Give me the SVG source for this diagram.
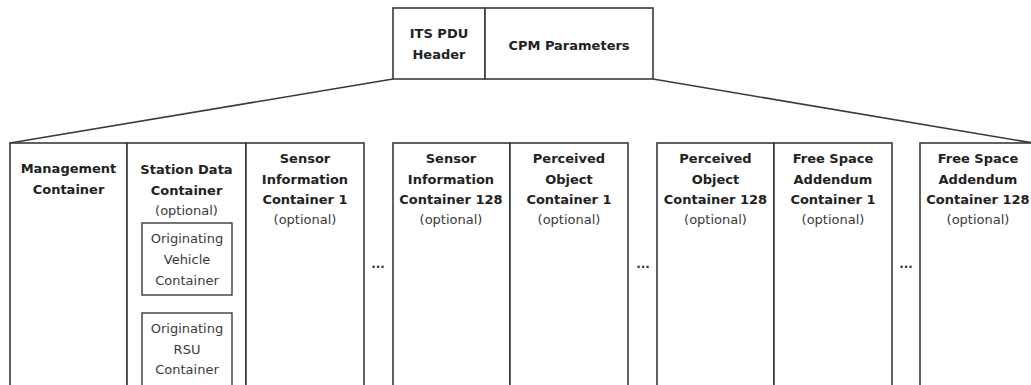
<svg xmlns="http://www.w3.org/2000/svg" width="1031" height="385" viewBox="0 0 1031 385">
<style>
.box{fill:#fff;stroke:#3a3a3a;stroke-width:1.6}
.sub{fill:#fff;stroke:#3a3a3a;stroke-width:1.4}
.ln{fill:none;stroke:#3a3a3a;stroke-width:1.6}
.b{font-family:"DejaVu Sans",Verdana,sans-serif;font-size:13px;font-weight:bold;fill:#222;text-anchor:middle}
.r{font-family:"DejaVu Sans",Verdana,sans-serif;font-size:13px;fill:#3a3a3a;text-anchor:middle}
.dots{font-family:"DejaVu Sans",Verdana,sans-serif;font-size:12px;font-weight:bold;fill:#333;text-anchor:middle}
</style>
<rect width="1031" height="385" fill="#fff"/>
<g id="connectors">
<line class="ln" x1="393" y1="79" x2="10" y2="143"/>
<line class="ln" x1="653" y1="79" x2="1033" y2="143"/>
</g>
<g id="its-pdu-header">
<rect class="box" x="393" y="8" width="92" height="71"/>
<text class="b" x="439" y="38">ITS PDU</text>
<text class="b" x="439" y="59">Header</text>
</g>
<g id="cpm-parameters">
<rect class="box" x="485" y="8" width="168" height="71"/>
<text class="b" x="569" y="50">CPM Parameters</text>
</g>
<g id="management-container">
<rect class="box" x="10" y="143" width="117" height="250"/>
<text class="b" x="68.5" y="173">Management</text>
<text class="b" x="68.5" y="194">Container</text>
</g>
<g id="station-data-container">
<rect class="box" x="127" y="143" width="119" height="250"/>
<text class="b" x="186.5" y="174">Station Data</text>
<text class="b" x="186.5" y="195">Container</text>
<text class="r" x="186.5" y="215">(optional)</text>
</g>
<g id="originating-vehicle-container">
<rect class="sub" x="142" y="223" width="90" height="72"/>
<text class="r" x="187" y="243">Originating</text>
<text class="r" x="187" y="264">Vehicle</text>
<text class="r" x="187" y="285">Container</text>
</g>
<g id="originating-rsu-container">
<rect class="sub" x="142" y="313" width="90" height="78"/>
<text class="r" x="187" y="333">Originating</text>
<text class="r" x="187" y="354">RSU</text>
<text class="r" x="187" y="374">Container</text>
</g>
<g id="sensor-information-container-1">
<rect class="box" x="246" y="143" width="118" height="250"/>
<text class="b" x="305" y="163">Sensor</text>
<text class="b" x="305" y="184">Information</text>
<text class="b" x="305" y="204">Container 1</text>
<text class="r" x="305" y="224">(optional)</text>
</g>
<text class="dots" x="378" y="268">...</text>
<g id="sensor-information-container-128">
<rect class="box" x="393" y="143" width="117" height="250"/>
<text class="b" x="451" y="163">Sensor</text>
<text class="b" x="451" y="184">Information</text>
<text class="b" x="451" y="204">Container 128</text>
<text class="r" x="451" y="224">(optional)</text>
</g>
<g id="perceived-object-container-1">
<rect class="box" x="510" y="143" width="118" height="250"/>
<text class="b" x="569" y="163">Perceived</text>
<text class="b" x="569" y="184">Object</text>
<text class="b" x="569" y="204">Container 1</text>
<text class="r" x="569" y="224">(optional)</text>
</g>
<text class="dots" x="643" y="268">...</text>
<g id="perceived-object-container-128">
<rect class="box" x="657" y="143" width="117" height="250"/>
<text class="b" x="715.5" y="163">Perceived</text>
<text class="b" x="715.5" y="184">Object</text>
<text class="b" x="715.5" y="204">Container 128</text>
<text class="r" x="715.5" y="224">(optional)</text>
</g>
<g id="free-space-addendum-container-1">
<rect class="box" x="774" y="143" width="118" height="250"/>
<text class="b" x="833" y="163">Free Space</text>
<text class="b" x="833" y="184">Addendum</text>
<text class="b" x="833" y="204">Container 1</text>
<text class="r" x="833" y="224">(optional)</text>
</g>
<text class="dots" x="906" y="268">...</text>
<g id="free-space-addendum-container-128">
<rect class="box" x="920" y="143" width="118" height="250"/>
<text class="b" x="978" y="163">Free Space</text>
<text class="b" x="978" y="184">Addendum</text>
<text class="b" x="978" y="204">Container 128</text>
<text class="r" x="978" y="224">(optional)</text>
</g>
</svg>
